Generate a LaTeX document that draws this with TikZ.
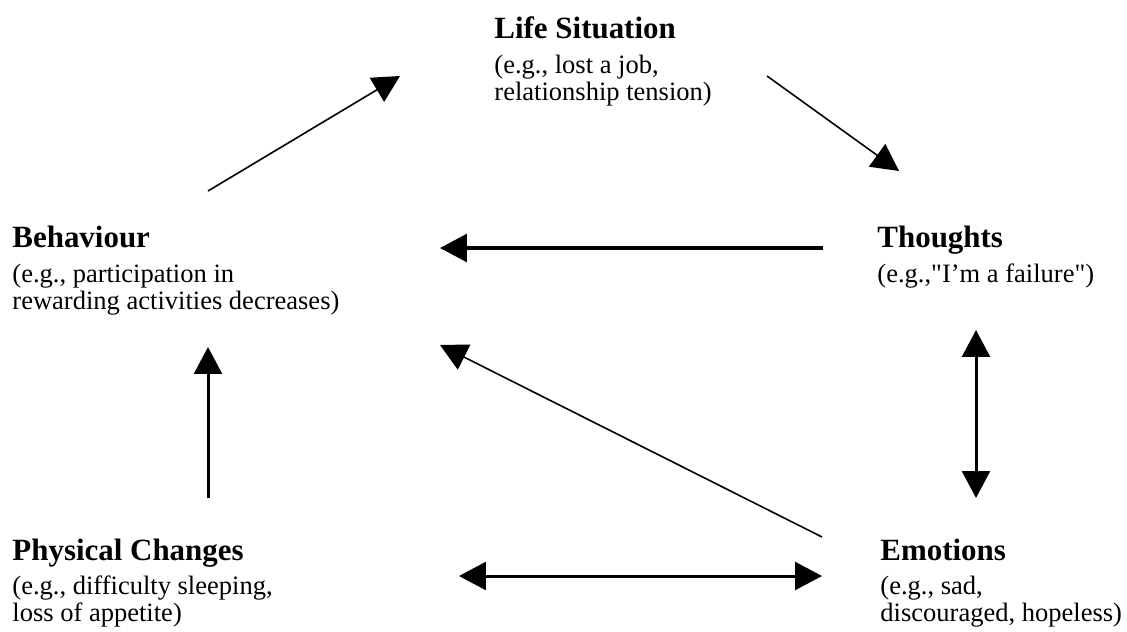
\documentclass[tikz,border=0pt]{standalone}
\usepackage{fontspec}
\setmainfont{Liberation Serif}[Ligatures=TeXOff]
\usepackage{tikz}
\usetikzlibrary{arrows.meta}
\tikzstyle{title}=[anchor=base west, inner sep=0pt, font=\fontsize{14}{16}\selectfont\bfseries]
\tikzstyle{body}=[anchor=base west, inner sep=0pt, font=\fontsize{12}{14}\selectfont]
\tikzstyle{bold arrow}=[line width=1.36pt]
\tikzstyle{fine arrow}=[line width=0.72pt]

\begin{document}
\begin{tikzpicture}[x=0.4525pt, y=-0.4525pt, >={Triangle[length=12.2pt, width=12.6pt]}]
                \useasboundingbox (0,0) rectangle (1127,632);
                % the five boxes
                \node[title] (life)  at (494, 39) {Life Situation};
                \node[body]  (life1) at (494, 74) {(e.g., lost a job,};
                \node[body]  (life2) at (494,101) {relationship tension)};
                \node[title] (beh)   at (12,247) {Behaviour};
                \node[body]  (beh1)  at (12,282) {(e.g., participation in};
                \node[body]  (beh2)  at (12,309) {rewarding activities decreases)};
                \node[title] (tho)   at (877,247) {Thoughts};
                \node[body]  (tho1)  at (877,282) {(e.g.,"I’m a failure")};
                \node[title] (phy)   at (12,560) {Physical Changes};
                \node[body]  (phy1)  at (12,594) {(e.g., difficulty sleeping,};
                \node[body]  (phy2)  at (12,621) {loss of appetite)};
                \node[title] (emo)   at (880,560) {Emotions};
                \node[body]  (emo1)  at (880,594) {(e.g., sad,};
                \node[body]  (emo2)  at (880,621) {discouraged, hopeless)};
                % arrow ends
                \coordinate (beh-up)   at (208,191);
                \coordinate (life-in)  at (400, 76);
                \coordinate (life-out) at (767, 76);
                \coordinate (tho-in)   at (899,171);
                \coordinate (tho-left) at (823,248);
                \coordinate (beh-in)   at (440,248);
                \coordinate (tho-down) at (976,330);
                \coordinate (emo-up)   at (976,498);
                \coordinate (emo-left) at (822,537);
                \coordinate (beh-low)  at (440,345);
                \coordinate (phy-up)   at (208,498);
                \coordinate (beh-bot)  at (208,347);
                \coordinate (phy-right) at (459,576);
                \coordinate (emo-in)   at (822,576);
                \draw[fine arrow, ->] (beh-up)--(life-in);
                \draw[fine arrow, ->] (life-out)--(tho-in);
                \draw[bold arrow, ->] (tho-left)--(beh-in);
                \draw[bold arrow, <->] (tho-down)--(emo-up);
                \draw[fine arrow, ->] (emo-left)--(beh-low);
                \draw[bold arrow, ->] (phy-up)--(beh-bot);
                \draw[bold arrow, <->] (phy-right)--(emo-in);
            \end{tikzpicture}
\end{document}
